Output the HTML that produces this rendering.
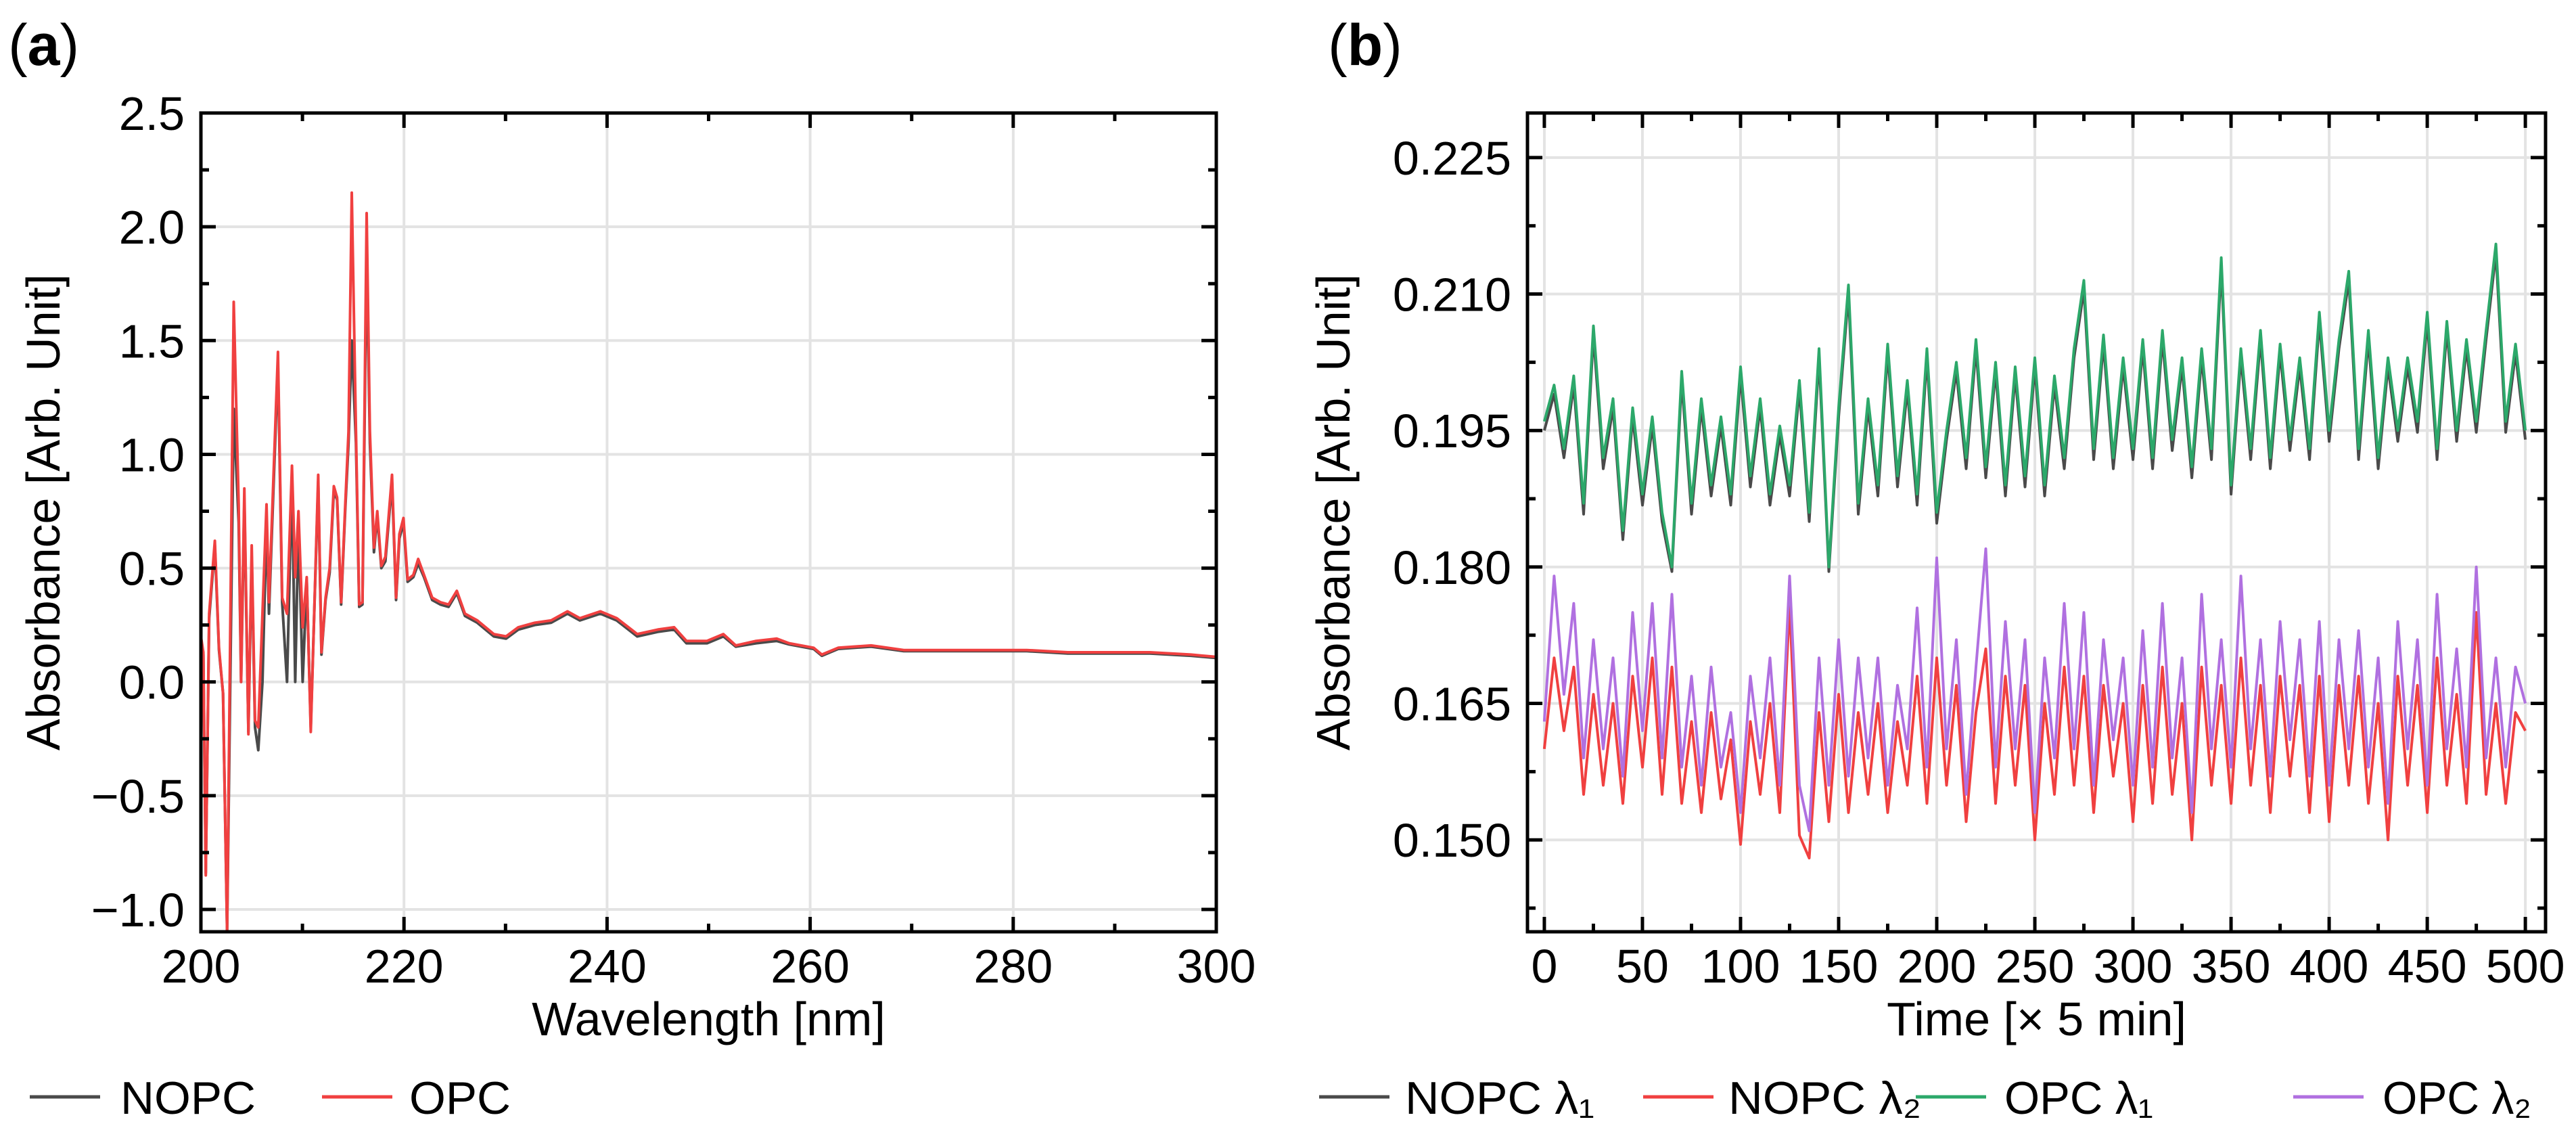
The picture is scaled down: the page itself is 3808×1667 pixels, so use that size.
<!DOCTYPE html>
<html><head><meta charset="utf-8"><style>
html,body{margin:0;padding:0;background:#fff;}
svg{display:block;font-family:"Liberation Sans",Arial,sans-serif;}
</style></head><body>
<svg id="fig" width="3808" height="1667" viewBox="0 0 3808 1667" xmlns="http://www.w3.org/2000/svg">
<text x="12" y="96" font-size="86">(<tspan font-weight="bold">a</tspan>)</text>
<text x="1963" y="96" font-size="86">(<tspan font-weight="bold">b</tspan>)</text>
<g id="pa"></g>
<g id="pb"></g>
</svg>
<script>
// ---- Panel (a) data ----
const wavelengths = [200,200.24,200.48,200.81,201.37,201.78,202.18,202.58,203.23,203.72,203.96,204.28,204.68,205.0,205.33,205.65,206.06,206.46,206.7,207.59,208.0,208.48,208.97,209.29,209.61,210.02,210.42,210.82,211.55,211.87,212.28,212.68,213.09,213.41,213.81,214.22,214.54,214.86,215.27,215.59,215.91,216.32,216.64,217.04,217.37,217.77,218.17,218.82,219.22,219.55,219.95,220.36,220.92,221.4,221.97,222.78,223.59,224.39,225.2,226.0,227.22,228.84,230.05,231.26,232.88,234.49,236.1,237.32,239.34,240.95,242.97,244.99,246.6,247.82,249.84,251.45,252.67,254.68,256.7,257.92,260.34,261.15,262.76,266.0,269.22,272.46,277.3,281.34,285.38,289.42,293.46,297.5,300];
const opcAbs = [0.2,0.13,-0.85,0.3,0.62,0.15,-0.05,-1.1,1.67,0.78,0.0,0.85,-0.23,0.6,-0.17,-0.2,0.3,0.78,0.35,1.45,0.37,0.3,0.95,0.46,0.75,0.24,0.46,-0.22,0.91,0.13,0.37,0.5,0.86,0.81,0.35,0.78,1.1,2.15,1.1,0.34,0.35,2.06,1.1,0.59,0.75,0.51,0.55,0.91,0.37,0.65,0.72,0.45,0.47,0.54,0.47,0.37,0.35,0.34,0.4,0.3,0.27,0.21,0.2,0.24,0.26,0.27,0.31,0.28,0.31,0.28,0.21,0.23,0.24,0.18,0.18,0.21,0.16,0.18,0.19,0.17,0.15,0.12,0.15,0.16,0.14,0.14,0.14,0.14,0.13,0.13,0.13,0.12,0.11];
const nopcAbs = [0.18,0.12,-0.84,0.28,0.6,0.14,-0.05,-1.1,1.2,0.7,0.0,0.8,-0.22,0.55,-0.2,-0.3,0.0,0.7,0.3,1.4,0.35,0.0,0.9,0.0,0.7,0.0,0.45,-0.2,0.88,0.12,0.36,0.48,0.84,0.8,0.34,0.76,1.05,1.5,1.05,0.33,0.34,1.9,1.05,0.57,0.73,0.5,0.53,0.88,0.36,0.63,0.7,0.44,0.46,0.52,0.46,0.36,0.34,0.33,0.39,0.29,0.26,0.2,0.19,0.23,0.25,0.26,0.3,0.27,0.3,0.27,0.2,0.22,0.23,0.17,0.17,0.2,0.155,0.17,0.18,0.165,0.145,0.115,0.145,0.155,0.135,0.135,0.135,0.135,0.125,0.125,0.125,0.115,0.105];
const aXTicks = [200,220,240,260,280,300];
const aYTicks = [-1.0,-0.5,0.0,0.5,1.0,1.5,2.0,2.5];
const aYTickLabels = ["\u22121.0","\u22120.5","0.0","0.5","1.0","1.5","2.0","2.5"];

// ---- Panel (b) data ----
const timeSteps = [0,5,10,15,20,25,30,35,40,45,50,55,60,65,70,75,80,85,90,95,100,105,110,115,120,125,130,135,140,145,150,155,160,165,170,175,180,185,190,195,200,205,210,215,220,225,230,235,240,245,250,255,260,265,270,275,280,285,290,295,300,305,310,315,320,325,330,335,340,345,350,355,360,365,370,375,380,385,390,395,400,405,410,415,420,425,430,435,440,445,450,455,460,465,470,475,480,485,490,495,500];
const opcL1 = [0.1960,0.2000,0.1930,0.2010,0.1870,0.2065,0.1920,0.1985,0.1840,0.1975,0.1880,0.1965,0.1860,0.1800,0.2015,0.1870,0.1985,0.1890,0.1965,0.1880,0.2020,0.1900,0.1985,0.1880,0.1955,0.1890,0.2005,0.1860,0.2040,0.1800,0.1975,0.2110,0.1870,0.1985,0.1890,0.2045,0.1900,0.2005,0.1880,0.2040,0.1860,0.1950,0.2025,0.1920,0.2050,0.1910,0.2025,0.1890,0.2020,0.1900,0.2030,0.1890,0.2010,0.1920,0.2040,0.2115,0.1930,0.2055,0.1920,0.2030,0.1930,0.2050,0.1920,0.2060,0.1940,0.2030,0.1910,0.2040,0.1930,0.2140,0.1890,0.2040,0.1930,0.2060,0.1920,0.2045,0.1940,0.2030,0.1930,0.2080,0.1950,0.2050,0.2125,0.1930,0.2060,0.1920,0.2030,0.1950,0.2030,0.1960,0.2080,0.1930,0.2070,0.1950,0.2050,0.1960,0.2060,0.2155,0.1960,0.2045,0.1950];
const nopcL1 = [0.1950,0.1990,0.1920,0.2000,0.1858,0.2055,0.1908,0.1975,0.1830,0.1965,0.1868,0.1955,0.1850,0.1795,0.2005,0.1858,0.1975,0.1878,0.1955,0.1868,0.2010,0.1888,0.1975,0.1868,0.1945,0.1878,0.1995,0.1850,0.2030,0.1795,0.1965,0.2100,0.1858,0.1975,0.1878,0.2035,0.1888,0.1995,0.1868,0.2030,0.1848,0.1940,0.2015,0.1908,0.2040,0.1898,0.2015,0.1878,0.2010,0.1888,0.2020,0.1878,0.2000,0.1908,0.2030,0.2105,0.1918,0.2045,0.1908,0.2020,0.1918,0.2040,0.1908,0.2050,0.1928,0.2020,0.1898,0.2030,0.1918,0.2130,0.1880,0.2030,0.1918,0.2050,0.1908,0.2035,0.1928,0.2020,0.1918,0.2070,0.1938,0.2040,0.2115,0.1918,0.2050,0.1908,0.2020,0.1938,0.2020,0.1948,0.2070,0.1918,0.2060,0.1938,0.2040,0.1948,0.2050,0.2145,0.1948,0.2035,0.1940];
const opcL2 = [0.1630,0.1790,0.1660,0.1760,0.1590,0.1720,0.1600,0.1700,0.1570,0.1750,0.1620,0.1760,0.1590,0.1770,0.1580,0.1680,0.1560,0.1690,0.1580,0.1640,0.1530,0.1680,0.1590,0.1700,0.1560,0.1790,0.1560,0.1510,0.1700,0.1560,0.1720,0.1570,0.1700,0.1590,0.1700,0.1560,0.1670,0.1600,0.1755,0.1580,0.1810,0.1600,0.1720,0.1550,0.1690,0.1820,0.1580,0.1740,0.1600,0.1720,0.1530,0.1700,0.1590,0.1760,0.1600,0.1750,0.1560,0.1720,0.1610,0.1700,0.1560,0.1730,0.1580,0.1760,0.1590,0.1700,0.1530,0.1770,0.1600,0.1720,0.1580,0.1790,0.1600,0.1720,0.1570,0.1740,0.1610,0.1720,0.1570,0.1740,0.1560,0.1720,0.1600,0.1730,0.1580,0.1700,0.1540,0.1740,0.1600,0.1720,0.1560,0.1770,0.1600,0.1710,0.1580,0.1800,0.1590,0.1700,0.1580,0.1690,0.1650];
const nopcL2 = [0.1600,0.1700,0.1620,0.1690,0.1550,0.1660,0.1560,0.1650,0.1540,0.1680,0.1580,0.1700,0.1550,0.1690,0.1540,0.1630,0.1530,0.1640,0.1545,0.1610,0.1495,0.1630,0.1550,0.1650,0.1530,0.1760,0.1505,0.1480,0.1640,0.1520,0.1660,0.1530,0.1640,0.1550,0.1650,0.1530,0.1630,0.1560,0.1680,0.1540,0.1700,0.1560,0.1670,0.1520,0.1640,0.1710,0.1540,0.1680,0.1560,0.1670,0.1500,0.1650,0.1550,0.1690,0.1560,0.1680,0.1530,0.1670,0.1570,0.1650,0.1520,0.1670,0.1540,0.1690,0.1550,0.1650,0.1500,0.1690,0.1560,0.1670,0.1540,0.1700,0.1560,0.1670,0.1530,0.1680,0.1570,0.1670,0.1530,0.1680,0.1520,0.1670,0.1560,0.1680,0.1540,0.1650,0.1500,0.1680,0.1560,0.1670,0.1530,0.1700,0.1560,0.1660,0.1540,0.1750,0.1550,0.1650,0.1540,0.1640,0.1620];
const bXTicks = [0,50,100,150,200,250,300,350,400,450,500];
const bYTicks = [0.150,0.165,0.180,0.195,0.210,0.225];
const bYTickLabels = ["0.150","0.165","0.180","0.195","0.210","0.225"];

const NS = "http://www.w3.org/2000/svg";
function mk(parent, tag, attrs){ const e=document.createElementNS(NS,tag); for(const k in attrs) e.setAttribute(k,attrs[k]); parent.appendChild(e); return e; }

function makeScale(d0,d1,r0,r1){ return v => r0 + (v-d0)/(d1-d0)*(r1-r0); }

function drawPanel(g, cfg){
  const L=cfg.left,R=cfg.right,T=cfg.top,B=cfg.bottom;
  const sx=makeScale(cfg.xmin,cfg.xmax,L,R), sy=makeScale(cfg.ymin,cfg.ymax,B,T);
  cfg.xTicks.forEach(v=>{ const l=mk(g,'line',{x1:sx(v),x2:sx(v),y1:T,y2:B,stroke:'#e3e3e3','stroke-width':4});
    
     });
  cfg.yTicks.forEach(v=>{ const l=mk(g,'line',{x1:L,x2:R,y1:sy(v),y2:sy(v),stroke:'#e3e3e3','stroke-width':4});
    
     });
  const clipId='clip'+cfg.id;
  const cp=mk(g,'clipPath',{id:clipId}); mk(cp,'rect',{x:L,y:T,width:R-L,height:B-T});
  cfg.series.forEach(s=>{
    const d=s.y.map((v,i)=>(i?'L':'M')+sx(s.x[i]).toFixed(1)+','+sy(v).toFixed(1)).join('');
    const p=mk(g,'path',{d:d,fill:'none',stroke:s.color,'stroke-width':4,'stroke-linejoin':'round','clip-path':'url(#'+clipId+')'});
    
    
  });
  const tk=(x1,y1,x2,y2,name)=>{ const l=mk(g,'line',{x1,y1,x2,y2,stroke:'#000','stroke-width':5});
    
     };
  const xs=cfg.xTicks, ys=cfg.yTicks;
  xs.forEach(v=>{ tk(sx(v),B,sx(v),B-22,'x-major-tick'); tk(sx(v),T,sx(v),T+22,'x-major-tick'); });
  cfg.xMinor.forEach(v=>{ tk(sx(v),B,sx(v),B-12,'x-minor-tick'); tk(sx(v),T,sx(v),T+12,'x-minor-tick'); });
  ys.forEach(v=>{ tk(L,sy(v),L+22,sy(v),'y-major-tick'); tk(R,sy(v),R-22,sy(v),'y-major-tick'); });
  cfg.yMinor.forEach(v=>{ tk(L,sy(v),L+12,sy(v),'y-minor-tick'); tk(R,sy(v),R-12,sy(v),'y-minor-tick'); });
  const fr=mk(g,'rect',{x:L,y:T,width:R-L,height:B-T,fill:'none',stroke:'#000','stroke-width':5});
  
  
  xs.forEach((v,i)=>{ const t=mk(g,'text',{x:sx(v),y:1452,'font-size':70,'text-anchor':'middle'}); t.textContent=cfg.xLabels[i];
    
     });
  ys.forEach((v,i)=>{ const t=mk(g,'text',{x:L-24,y:sy(v)+25,'font-size':70,'text-anchor':'end'}); t.textContent=cfg.yLabels[i];
    
     });
  const xt=mk(g,'text',{x:(L+R)/2,y:1530,'font-size':70,'text-anchor':'middle'}); xt.textContent=cfg.xTitle;
  
  
  const yt=mk(g,'text',{x:0,y:0,'font-size':70,'text-anchor':'middle',transform:'translate('+cfg.yTitleX+',757) rotate(-90)'}); yt.textContent='Absorbance [Arb. Unit]';
  
  
  cfg.legend.forEach(e=>{
    const lg=mk(g,'g',{});
    
    
    mk(lg,'line',{x1:e.x,x2:e.x+104,y1:1621,y2:1621,stroke:e.color,'stroke-width':5});
    const t=mk(lg,'text',{x:e.tx,y:1646,'font-size':68,textLength:e.w,lengthAdjust:'spacingAndGlyphs'}); t.textContent=e.label;
  });
}

drawPanel(document.getElementById('pa'),{
  id:'a',left:297,right:1798,top:167,bottom:1377,xmin:200,xmax:300,ymin:-1.098,ymax:2.5,
  xTicks:aXTicks,xLabels:aXTicks.map(String),xMinor:[210,230,250,270,290],
  yTicks:aYTicks,yLabels:aYTickLabels,yMinor:[-0.75,-0.25,0.25,0.75,1.25,1.75,2.25],
  series:[{name:'nopc-line',x:wavelengths,y:nopcAbs,color:'#4a4a4a'},{name:'opc-line',x:wavelengths,y:opcAbs,color:'#f04040'}],
  xTitle:'Wavelength [nm]',yTitleX:88,
  legend:[{x:44,tx:178,w:200,color:'#4a4a4a',label:'NOPC'},{x:476,tx:605,w:150,color:'#f04040',label:'OPC'}]
});
drawPanel(document.getElementById('pb'),{
  id:'b',left:2258,right:3763,top:167,bottom:1377,xmin:-8.6,xmax:510.3,ymin:0.1399,ymax:0.2299,
  xTicks:bXTicks,xLabels:bXTicks.map(String),xMinor:[25,75,125,175,225,275,325,375,425,475],
  yTicks:bYTicks,yLabels:bYTickLabels,yMinor:[0.1425,0.1575,0.1725,0.1875,0.2025,0.2175],
  series:[{name:'nopc-lambda1-line',x:timeSteps,y:nopcL1,color:'#4a4a4a'},{name:'nopc-lambda2-line',x:timeSteps,y:nopcL2,color:'#f04040'},{name:'opc-lambda1-line',x:timeSteps,y:opcL1,color:'#2ca86a'},{name:'opc-lambda2-line',x:timeSteps,y:opcL2,color:'#b070e0'}],
  xTitle:'Time [\u00d7 5 min]',yTitleX:1995,
  legend:[{x:1950,tx:2077,w:280,color:'#4a4a4a',label:'NOPC \u03bb\u2081'},{x:2429,tx:2555,w:285,color:'#f04040',label:'NOPC \u03bb\u2082'},{x:2832,tx:2963,w:220,color:'#2ca86a',label:'OPC \u03bb\u2081'},{x:3390,tx:3522,w:220,color:'#b070e0',label:'OPC \u03bb\u2082'}]
});
</script>
</body></html>
